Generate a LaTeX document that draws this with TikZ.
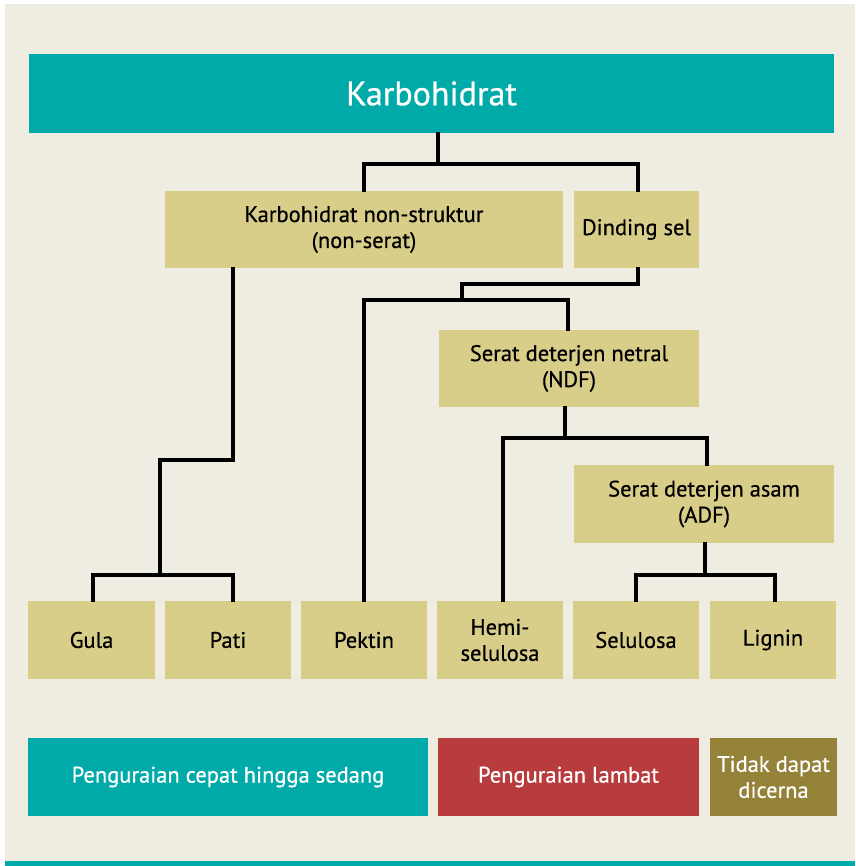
\documentclass[tikz,border=0pt]{standalone}
\usepackage{fontspec}
\setmainfont{PT Sans}[FakeBold=0.6]
\definecolor{bgc}{HTML}{EFECE1}
\definecolor{tealc}{HTML}{00AAA9}
\definecolor{boxc}{HTML}{D8CE8A}
\definecolor{redc}{HTML}{B83B3D}
\definecolor{olivec}{HTML}{948238}
\begin{document}
\begin{tikzpicture}[x=1pt,y=-1pt,
  nbox/.style={fill=boxc, inner sep=0pt, align=center, text=black,
    font=\fontsize{22.5}{26}\selectfont, minimum height=77pt},
  lbox/.style={inner sep=0pt, align=center, text=white,
    font=\fontsize{22.5}{26}\selectfont, minimum height=78pt},
  conn/.style={draw=black, line width=3.2pt, line cap=rect}]
\useasboundingbox (0,0) rectangle (855,866);
\fill[white] (0,0) rectangle (855,866);
\fill[bgc] (5,4) rectangle (855,861);
\fill[tealc] (5,861) rectangle (855,866);

% nodes
\node[fill=tealc, text=white, inner sep=0pt, minimum width=805pt, minimum height=79pt,
  font=\fontsize{34}{40}\selectfont] (title) at (431.5,93.5) {Karbohidrat};
\node[nbox, minimum width=398pt] (kns) at (364,229.5) {Karbohidrat non-struktur\\(non-serat)};
\node[nbox, minimum width=125pt] (ds) at (636.5,229.5) {Dinding sel};
\node[nbox, minimum width=260pt] (ndf) at (569,368.5) {Serat deterjen netral\\(NDF)};
\node[nbox, minimum width=260pt, minimum height=78pt] (adf) at (704,504) {Serat deterjen asam\\(ADF)};

\node[nbox, minimum width=127pt, minimum height=78pt] (gula) at (91.5,640) {Gula};
\node[nbox, minimum width=126pt, minimum height=78pt] (pati) at (228,640) {Pati};
\node[nbox, minimum width=126pt, minimum height=78pt] (pektin) at (364,640) {Pektin};
\node[nbox, minimum width=126pt, minimum height=78pt] (hemi) at (500,640) {Hemi-\\selulosa};
\node[nbox, minimum width=126pt, minimum height=78pt] (selu) at (636,640) {Selulosa};
\node[nbox, minimum width=126pt, minimum height=78pt] (lignin) at (773,640) {Lignin};

\node[lbox, fill=tealc, minimum width=400pt] (l1) at (228,777) {Penguraian cepat hingga sedang};
\node[lbox, fill=redc, minimum width=261pt] (l2) at (568.5,777) {Penguraian lambat};
\node[lbox, fill=olivec, minimum width=127pt] (l3) at (773.5,777) {Tidak dapat\\dicerna};

% junction coordinates
\coordinate (j1) at (438,164);
\coordinate (k1) at (233,460);
\coordinate (k2) at (160,460);
\coordinate (k3) at (160,575);
\coordinate (ga) at (93,575);
\coordinate (pa) at (233,575);
\coordinate (d1) at (638,284);
\coordinate (d2) at (462,284);
\coordinate (d3) at (462,300);
\coordinate (pk) at (364,300);
\coordinate (nd) at (568,300);
\coordinate (n1) at (565,438);
\coordinate (hm) at (503,438);
\coordinate (ad) at (707,438);
\coordinate (a1) at (705,575);
\coordinate (se) at (636,575);
\coordinate (lg) at (775,575);

% connectors
\draw[conn] (title.south -| j1) -- (j1);
\draw[conn] (kns.north -| pk) |- (j1) -| (ds.north -| d1);
\draw[conn] (kns.south -| k1) -- (k1) -- (k2) -- (k3);
\draw[conn] (gula.north -| ga) -- (ga) -- (pa) -- (pati.north -| pa);
\draw[conn] (ds.south -| d1) -- (d1) -- (d2) -- (d3);
\draw[conn] (pektin.north -| pk) -- (pk) -- (nd) -- (ndf.north -| nd);
\draw[conn] (ndf.south -| n1) -- (n1);
\draw[conn] (hemi.north -| hm) -- (hm) -- (ad) -- (adf.north -| ad);
\draw[conn] (adf.south -| a1) -- (a1);
\draw[conn] (selu.north -| se) -- (se) -- (lg) -- (lignin.north -| lg);
\end{tikzpicture}
\end{document}
